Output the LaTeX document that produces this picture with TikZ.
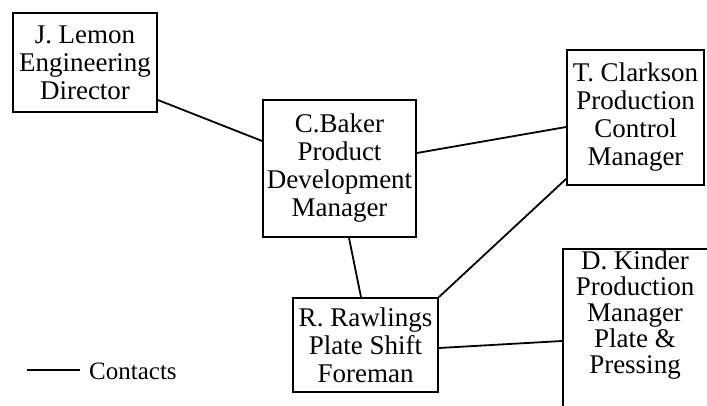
\documentclass[tikz,border=0pt]{standalone}
\usepackage{fontspec}
\setmainfont{Liberation Serif}
\begin{document}
\begin{tikzpicture}[x=1pt,y=-1pt,
  person/.style={draw, line width=1.8pt, align=center, inner sep=0pt,
    font=\fontsize{27}{28}\selectfont},
  contact/.style={line width=1.8pt}]
\clip (0,0) rectangle (707,406);
\useasboundingbox (0,0) rectangle (707,406);

% people
\node[person, minimum width=144pt, minimum height=99pt] (lemon) at (85,62.5)
  {J. Lemon\\Engineering\\Director};
\node[person, minimum width=153pt, minimum height=137pt] (baker) at (339.5,168.5)
  {C.Baker\\Product\\Development\\Manager};
\node[person, minimum width=137pt, minimum height=135pt] (clarkson) at (635.5,117.5)
  {T. Clarkson\\Production\\Control\\Manager};
\node[person, minimum width=145pt, minimum height=94pt] (rawlings) at (365.5,345)
  {R. Rawlings\\Plate Shift\\Foreman};
% this box runs past the lower and right edges
\node[draw, line width=1.8pt, minimum width=152pt, minimum height=190pt,
  anchor=north west, inner sep=0pt] (kinder) at (562,248) {};
\node[align=center, inner sep=0pt, font=\fontsize{27}{26}\selectfont]
  (kindertext) at (635,315) {D. Kinder\\Production\\Manager\\Plate \&\\Pressing};

% contacts
\draw[contact] ([yshift=-37.5pt]lemon.east) -- ([yshift=27.5pt]baker.west);
\draw[contact] ([yshift=15.5pt]baker.east) -- ([yshift=-9.5pt]clarkson.west);
\draw[contact] ([xshift=9.5pt]baker.south) -- ([xshift=-4.5pt]rawlings.north);
\draw[contact] (rawlings.north east) -- ([yshift=7pt]clarkson.south west);
\draw[contact] ([yshift=-3pt]rawlings.east) -- ([yshift=-93pt]kinder.north west);

% legend
\coordinate (legA) at (27,370);
\coordinate (legB) at (80,370);
\draw[contact] (legA) -- (legB);
\node[anchor=west, inner sep=0pt, font=\fontsize{25}{26}\selectfont]
  (legtext) at (89,371) {Contacts};
\end{tikzpicture}
\end{document}
